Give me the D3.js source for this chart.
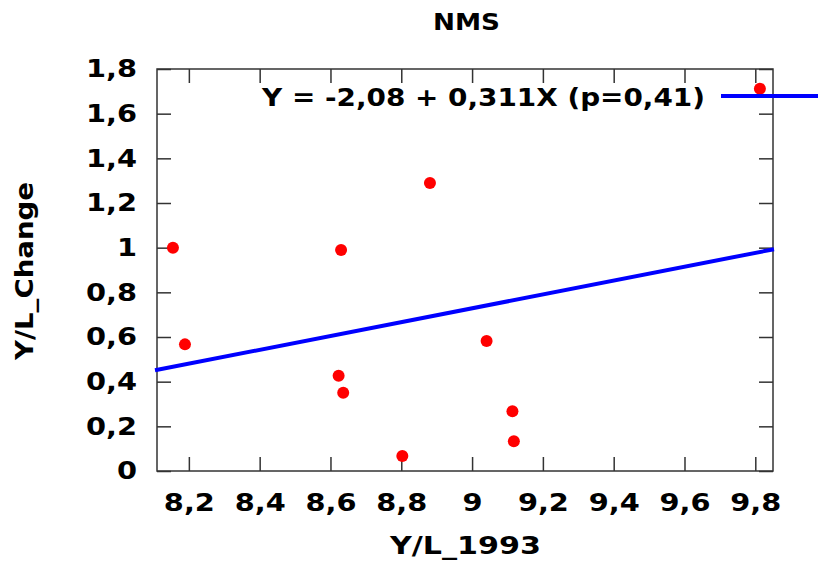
<!DOCTYPE html>
<html>
<head>
<meta charset="utf-8">
<script src="https://cdn.jsdelivr.net/npm/d3@7"></script>
<style>
  body { margin: 0; background: #fff; }
  svg { display: block; font-family: 'DejaVu Sans', sans-serif; font-weight: bold; }
</style>
</head>
<body>
<svg id="chart"></svg>
<script>
// Y/L_1993 vs Y/L_Change, NMS countries
const xValues = [8.155, 8.189, 8.623, 8.636, 8.630, 8.881, 8.803, 9.041, 9.114, 9.118, 9.813];
const yValues = [1.000, 0.567, 0.426, 0.350, 0.990, 1.290, 0.067, 0.582, 0.268, 0.133, 1.712];

// fitted line, read at both ends of the x range
const fitX = [8.11, 9.85];
const fitY = [0.451, 0.993];
const fitLabel = 'Y = -2,08 + 0,311X (p=0,41)';

const xTicks = [8.2, 8.4, 8.6, 8.8, 9, 9.2, 9.4, 9.6, 9.8];
const yTicks = [0, 0.2, 0.4, 0.6, 0.8, 1, 1.2, 1.4, 1.6, 1.8];

const width = 820;
const height = 563;
const margin = { top: 69, right: 47, bottom: 92, left: 157 };
const innerW = width - margin.left - margin.right;
const innerH = height - margin.top - margin.bottom;

const comma = (d) => String(d).replace('.', ',');

// the source font is wider than DejaVu, so labels get stretched sideways
const stretch = 1.2;

const svgEl = d3.select('#chart').attr('width', width).attr('height', height);
const svg = svgEl
  .append('g')
  .attr('transform', `translate(${margin.left},${margin.top})`);

const x = d3.scaleLinear().domain([8.11, 9.85]).range([0, innerW]);
const y = d3.scaleLinear().domain([0, 1.8]).range([innerH, 0]);

const tickLen = 14;
const axisColor = '#333';

function styleAxis(g) {
  g.select('.domain').remove();
  g.selectAll('.tick line').attr('stroke', axisColor).attr('stroke-width', 1.5);
  g.selectAll('.tick text')
    .attr('fill', '#000')
    .attr('transform', `scale(${stretch},1)`)
    .style('font-size', '24px')
    .style('font-family', 'DejaVu Sans, sans-serif')
    .style('font-weight', 'bold');
}

svg
  .append('g')
  .attr('transform', `translate(0,${innerH})`)
  .call(d3.axisBottom(x).tickValues(xTicks).tickFormat(comma).tickSize(-tickLen).tickPadding(23))
  .call(styleAxis);

svg
  .append('g')
  .call(d3.axisTop(x).tickValues(xTicks).tickFormat('').tickSize(-tickLen))
  .call(styleAxis);

svg
  .append('g')
  .call(d3.axisLeft(y).tickValues(yTicks).tickFormat(comma).tickSize(-tickLen))
  .call(styleAxis)
  .call((g) => g.selectAll('.tick text').attr('x', -20 / stretch));

svg
  .append('g')
  .attr('transform', `translate(${innerW},0)`)
  .call(d3.axisRight(y).tickValues(yTicks).tickFormat('').tickSize(-tickLen))
  .call(styleAxis);

svg
  .append('rect')
  .attr('width', innerW)
  .attr('height', innerH)
  .attr('fill', 'none')
  .attr('stroke', axisColor)
  .attr('stroke-width', 1.5);

// regression line
svg
  .append('line')
  .attr('x1', x(fitX[0]) - 2)
  .attr('y1', y(fitY[0]))
  .attr('x2', x(fitX[1]) + 1)
  .attr('y2', y(fitY[1]))
  .attr('stroke', '#0000ff')
  .attr('stroke-width', 4);

// points
const points = xValues.map((v, i) => ({ x: v, y: yValues[i] }));
svg
  .append('g')
  .selectAll('circle')
  .data(points)
  .join('circle')
  .attr('cx', (d) => x(d.x))
  .attr('cy', (d) => y(d.y))
  .attr('r', 6)
  .attr('fill', '#ff0000');

// legend
svgEl
  .append('text')
  .attr('x', 262)
  .attr('y', 106)
  .attr('textLength', 443)
  .attr('lengthAdjust', 'spacingAndGlyphs')
  .style('font-size', '24px')
  .text(fitLabel);

svgEl
  .append('line')
  .attr('x1', 721)
  .attr('x2', 818)
  .attr('y1', 96)
  .attr('y2', 96)
  .attr('stroke', '#0000ff')
  .attr('stroke-width', 4);

// titles
svgEl
  .append('text')
  .attr('x', 433)
  .attr('y', 30)
  .attr('textLength', 67)
  .attr('lengthAdjust', 'spacingAndGlyphs')
  .style('font-size', '23px')
  .text('NMS');

svgEl
  .append('text')
  .attr('x', 390)
  .attr('y', 554)
  .attr('textLength', 151)
  .attr('lengthAdjust', 'spacingAndGlyphs')
  .style('font-size', '24px')
  .text('Y/L_1993');

svgEl
  .append('text')
  .attr('transform', 'translate(33,360) rotate(-90)')
  .attr('textLength', 178)
  .attr('lengthAdjust', 'spacingAndGlyphs')
  .style('font-size', '25px')
  .text('Y/L_Change');
</script>
</body>
</html>
